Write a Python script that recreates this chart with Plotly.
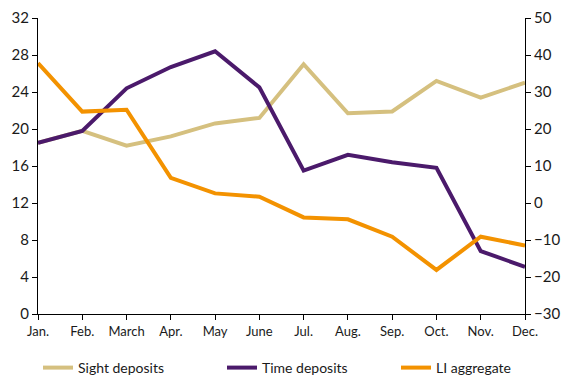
import plotly.graph_objects as go

months = ["Jan.", "Feb.", "March", "Apr.", "May", "June", "Jul.", "Aug.", "Sep.", "Oct.", "Nov.", "Dec."]
sight = [18.5, 19.8, 18.2, 19.2, 20.6, 21.2, 27.0, 21.7, 21.9, 25.2, 23.4, 25.0]
time_dep = [18.5, 19.8, 24.4, 26.7, 28.4, 24.5, 15.5, 17.2, 16.4, 15.8, 6.8, 5.1]
li_agg = [37.8, 24.7, 25.2, 6.8, 2.6, 1.7, -3.9, -4.4, -9.1, -18.1, -9.1, -11.5]

x = list(range(len(months)))
FONT = "Lato, sans-serif"

fig = go.Figure()
fig.add_trace(go.Scatter(x=x, y=sight, name="Sight deposits", mode="lines", legend="legend",
                         line=dict(color="#d5c07f", width=4)))
fig.add_trace(go.Scatter(x=x, y=time_dep, name="Time deposits", mode="lines", legend="legend2",
                         line=dict(color="#4b1a6b", width=4)))
fig.add_trace(go.Scatter(x=x, y=li_agg, name="LI aggregate", mode="lines", yaxis="y2",
                         legend="legend3", line=dict(color="#f39200", width=4)))

leg_y = (379 - 368) / 379


def leg(px):
    return dict(orientation="h", xref="container", yref="container",
                x=px / 561, xanchor="left", y=leg_y, yanchor="middle",
                font=dict(size=14), itemwidth=30, bgcolor="rgba(0,0,0,0)")


fig.update_layout(
    width=561, height=379,
    margin=dict(l=38, r=36, t=18, b=65, autoexpand=False),
    plot_bgcolor="white", paper_bgcolor="white",
    font=dict(family=FONT, size=13, color="#1a1a1a"),
    showlegend=True,
    legend=leg(38),
    legend2=leg(222),
    legend3=leg(396),
    xaxis=dict(range=[0, 11], tickvals=x, ticktext=months, showgrid=False, zeroline=False,
               showline=True, linecolor="black", linewidth=1, ticks="outside",
               ticklen=5, tickcolor="black", tickfont=dict(size=13)),
    yaxis=dict(range=[0, 32], dtick=4, tick0=0, showgrid=False, zeroline=False,
               showline=True, linecolor="black", linewidth=1, ticks="outside",
               ticklen=5, tickcolor="black", tickfont=dict(size=15)),
    yaxis2=dict(range=[-30, 50], dtick=10, tick0=0, overlaying="y", side="right",
                showgrid=False, zeroline=False, showline=True, linecolor="black",
                linewidth=1, ticks="outside", ticklen=5, tickcolor="black",
                tickfont=dict(size=15)),
)

fig.write_html("out.html")
